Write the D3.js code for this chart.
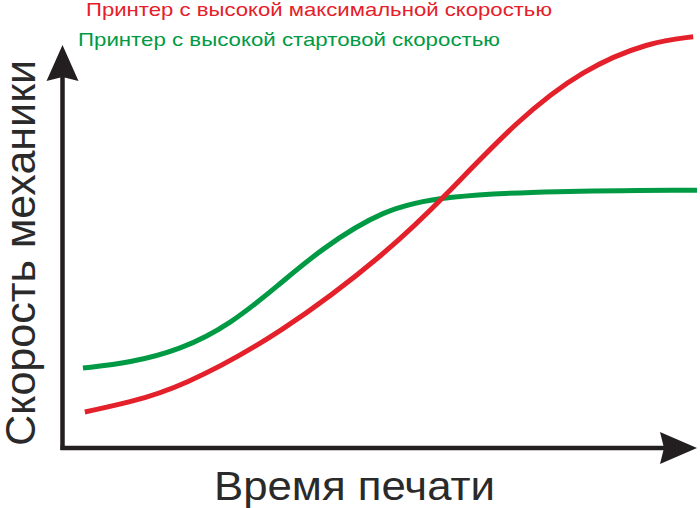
<!DOCTYPE html>
<html><head><meta charset="utf-8">
<script src="https://cdn.jsdelivr.net/npm/d3@7"></script>
<style>body{margin:0;background:#fff}svg{display:block}</style>
</head><body>
<svg id="c" width="700" height="508"></svg>
<script>
// Data (time 0..100, speed 0..100)
const redX   = [3.6, 10.5, 18.6, 34.3, 51.7, 60.3, 71.7, 82.0, 92.6, 99.4];
const redY   = [8.3, 10.6, 14.2, 27.1, 47.8, 60.9, 79.5, 91.9, 98.6, 99.8];
const greenX = [3.3, 10.7, 18.6, 26.5, 34.3, 40.6, 50.6, 60.3, 76.9, 100];
const greenY = [19.0, 20.3, 23.4, 29.6, 39.5, 47.8, 57.8, 61.0, 62.2, 62.4];
const legendLabels = ["Принтер с высокой максимальной скоростью", "Принтер с высокой стартовой скоростью"];
const xTitle = "Время печати";
const yTitle = "Скорость механики";

const svg = d3.select("#c");
const x = d3.scaleLinear().domain([0, 100]).range([62, 697]);
const y = d3.scaleLinear().domain([0, 100]).range([446, 36]);
const dark = "#231f20";

// axes
const x0 = 62.5, y0 = 448;
svg.append("line").attr("x1", x0).attr("y1", y0 + 2).attr("x2", x0).attr("y2", 70)
  .attr("stroke", dark).attr("stroke-width", 4.5);
svg.append("line").attr("x1", x0 - 2).attr("y1", y0).attr("x2", 670).attr("y2", y0)
  .attr("stroke", dark).attr("stroke-width", 4.5);
svg.append("path").attr("d", `M${x0},45 L${x0+16},81 L${x0},77 L${x0-16},81 Z`).attr("fill", dark);
svg.append("path").attr("d", `M697,${y0} L660,${y0-16} L664,${y0} L660,${y0+16} Z`).attr("fill", dark);

const line = d3.line().x(d => x(d[0])).y(d => y(d[1])).curve(d3.curveBasis);
svg.append("path").datum(greenX.map((v, i) => [v, greenY[i]]))
  .attr("d", line).attr("fill", "none").attr("stroke", "#009a44").attr("stroke-width", 5);
svg.append("path").datum(redX.map((v, i) => [v, redY[i]]))
  .attr("d", line).attr("fill", "none").attr("stroke", "#e4202a").attr("stroke-width", 5);

// legend
svg.append("text").attr("x", 86).attr("y", 16).attr("fill", "#e4202a")
  .attr("font-family", "Liberation Sans, Arial, sans-serif").attr("font-size", 19)
  .attr("textLength", 466).attr("lengthAdjust", "spacingAndGlyphs").text(legendLabels[0]);
svg.append("text").attr("x", 78).attr("y", 46).attr("fill", "#009a44")
  .attr("font-family", "Liberation Sans, Arial, sans-serif").attr("font-size", 19)
  .attr("textLength", 422).attr("lengthAdjust", "spacingAndGlyphs").text(legendLabels[1]);

// titles
svg.append("text").attr("x", 214).attr("y", 500).attr("fill", "#2a2a2a")
  .attr("font-family", "Liberation Sans, Arial, sans-serif").attr("font-size", 40)
  .attr("textLength", 281).attr("lengthAdjust", "spacingAndGlyphs").text(xTitle);
svg.append("text").attr("transform", "translate(35,446) rotate(-90)").attr("fill", "#2a2a2a")
  .attr("font-family", "Liberation Sans, Arial, sans-serif").attr("font-size", 43)
  .attr("textLength", 386).attr("lengthAdjust", "spacingAndGlyphs").text(yTitle);
</script>
</body></html>
